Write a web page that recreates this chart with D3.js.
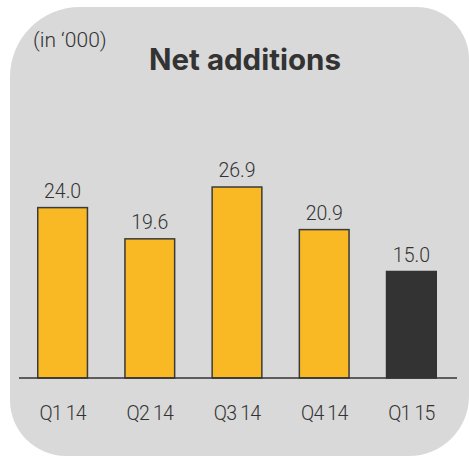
<!DOCTYPE html>
<html>
<head>
<meta charset="utf-8">
<script src="https://cdn.jsdelivr.net/npm/d3@7"></script>
<style>
  html, body { margin: 0; padding: 0; background: #ffffff; }
  svg { display: block; }
</style>
</head>
<body>
<svg id="chart" width="469" height="456"></svg>
<script>
// Quarterly net additions, in thousands
const categories = ["Q1 14", "Q2 14", "Q3 14", "Q4 14", "Q1 15"];
const values = [24.0, 19.6, 26.9, 20.9, 15.0];
const valueLabels = ["24.0", "19.6", "26.9", "20.9", "15.0"];
const highlighted = [false, false, false, false, true];

const W = 469, H = 456;
const svg = d3.select("#chart");

// Card background with unevenly rounded corners
function roundedCard(x0, y0, x1, y1, tl, tr, br, bl) {
  const p = d3.path();
  p.moveTo(x0 + tl, y0);
  p.lineTo(x1 - tr, y0);
  p.arcTo(x1, y0, x1, y0 + tr, tr);
  p.lineTo(x1, y1 - br);
  p.arcTo(x1, y1, x1 - br, y1, br);
  p.lineTo(x0 + bl, y1);
  p.arcTo(x0, y1, x0, y1 - bl, bl);
  p.lineTo(x0, y0 + tl);
  p.arcTo(x0, y0, x0 + tl, y0, tl);
  p.closePath();
  return p.toString();
}
svg.append("path")
  .attr("d", roundedCard(10, 7, 469, 456, 70, 52, 60, 56))
  .attr("fill", "#d9d9d9");

const baseY = 378;
const x = d3.scaleBand()
  .domain(categories)
  .range([19, 455])
  .paddingInner(0.43)
  .paddingOuter(0.215);
const y = d3.scaleLinear().domain([0, 30]).range([baseY, baseY - 213]);

const textColor = "#333333";
const bodyFont = "Roboto, 'Liberation Sans', Arial, sans-serif";

// Bars
const data = categories.map((c, i) => ({ c, v: values[i], label: valueLabels[i], hi: highlighted[i] }));
svg.append("g").selectAll("rect")
  .data(data)
  .join("rect")
  .attr("x", d => x(d.c))
  .attr("y", d => y(d.v))
  .attr("width", x.bandwidth())
  .attr("height", d => y(0) - y(d.v))
  .attr("fill", d => d.hi ? "#333333" : "#f8b924")
  .attr("stroke", d => d.hi ? "#333333" : "#3a3a3a")
  .attr("stroke-width", 1.5);

// Value labels
svg.append("g").selectAll("text")
  .data(data)
  .join("text")
  .attr("x", d => x(d.c) + x.bandwidth() / 2)
  .attr("y", d => y(d.v) - 10)
  .attr("text-anchor", "middle")
  .attr("font-family", bodyFont)
  .attr("font-weight", 300)
  .attr("font-size", 19.5)
  .attr("fill", textColor)
  .text(d => d.label);

// Category axis
const axis = svg.append("g")
  .attr("transform", `translate(0,${baseY})`)
  .call(d3.axisBottom(x).tickSize(0).tickSizeOuter(0));
axis.select(".domain")
  .attr("stroke", "#333333")
  .attr("stroke-width", 1.5)
  .attr("d", "M19,0H457");
axis.selectAll(".tick text")
  .attr("y", 42)
  .attr("dy", 0)
  .attr("font-family", bodyFont)
  .attr("font-weight", 300)
  .attr("font-size", 19.5)
  .attr("letter-spacing", -0.8)
  .attr("fill", textColor);

// Title and unit note
svg.append("text")
  .attr("x", 245)
  .attr("y", 70)
  .attr("text-anchor", "middle")
  .attr("font-family", "Inter, 'Liberation Sans', sans-serif")
  .attr("font-weight", 700)
  .attr("font-size", 29.5)
  .attr("fill", textColor)
  .text("Net additions");

svg.append("text")
  .attr("x", 33)
  .attr("y", 47)
  .attr("font-family", bodyFont)
  .attr("font-weight", 300)
  .attr("font-size", 21)
  .attr("fill", textColor)
  .text("(in ‘000)");
</script>
</body>
</html>
